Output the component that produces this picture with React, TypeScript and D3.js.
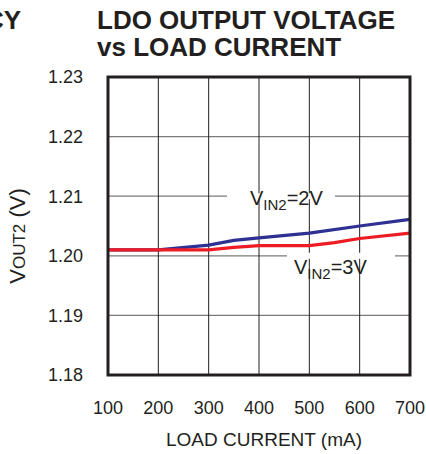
import React from "react";
import * as d3 from "d3";

// load current (mA)
const loadCurrent2V = [100, 200, 300, 350, 400, 500, 600, 700];
const vout2V = [1.201, 1.201, 1.2018, 1.2026, 1.203, 1.2038, 1.205, 1.2061];

const loadCurrent3V = [100, 200, 300, 350, 400, 500, 550, 600, 700];
const vout3V = [1.201, 1.201, 1.201, 1.2014, 1.2017, 1.2017, 1.2022, 1.2029, 1.2038];

const xTicks = [100, 200, 300, 400, 500, 600, 700];
const yTicks = [1.18, 1.19, 1.2, 1.21, 1.22, 1.23];

const W = 426;
const H = 454;
const plot = { left: 108, right: 410, top: 77, bottom: 375 };
const font = "'Liberation Sans', Arial, Helvetica, sans-serif";
const ink = "#231f20";

export default function App() {
  const x = d3.scaleLinear().domain([100, 700]).range([plot.left, plot.right]);
  const y = d3.scaleLinear().domain([1.18, 1.23]).range([plot.bottom, plot.top]);

  const line = d3
    .line<[number, number]>()
    .x((d) => x(d[0]))
    .y((d) => y(d[1]));

  const blue = line(loadCurrent2V.map((c, i) => [c, vout2V[i]]) as [number, number][]) || "";
  const red = line(loadCurrent3V.map((c, i) => [c, vout3V[i]]) as [number, number][]) || "";

  return (
    <svg
      width={W}
      height={H}
      style={{ position: "absolute", left: 0, top: 0, background: "#fff" }}
      fontFamily={font}
    >
      {/* title (left piece belongs to the neighbouring chart) */}
      <text x={21} y={29} textAnchor="end" fontSize={26} fontWeight="bold" fill={ink}>
        CY
      </text>
      <text x={97} y={29} fontSize={26} fontWeight="bold" fill={ink}>
        LDO OUTPUT VOLTAGE
      </text>
      <text x={97} y={56} fontSize={26} fontWeight="bold" fill={ink}>
        vs LOAD CURRENT
      </text>

      {/* horizontal grid */}
      {yTicks.slice(1, -1).map((t) => (
        <line
          key={"h" + t}
          x1={plot.left}
          x2={plot.right}
          y1={y(t)}
          y2={y(t)}
          stroke="#7a7a7a"
          strokeWidth={1.2}
        />
      ))}
      {/* vertical grid */}
      {xTicks.slice(1, -1).map((t) => (
        <line
          key={"v" + t}
          x1={x(t)}
          x2={x(t)}
          y1={plot.top}
          y2={plot.bottom}
          stroke={ink}
          strokeWidth={1}
        />
      ))}

      {/* label backgrounds breaking the grid */}
      <rect x={227} y={y(1.21) - 3} width={108} height={6} fill="#fff" />
      <rect x={287} y={y(1.2) - 3} width={108} height={6} fill="#fff" />

      {/* curves */}
      <path d={blue} fill="none" stroke="#2e3192" strokeWidth={3.2} />
      <path d={red} fill="none" stroke="#ed1c24" strokeWidth={3.2} />

      {/* frame */}
      <rect
        x={plot.left}
        y={plot.top}
        width={plot.right - plot.left}
        height={plot.bottom - plot.top}
        fill="none"
        stroke={ink}
        strokeWidth={3}
      />

      {/* curve labels */}
      <text x={250} y={205} fontSize={20} fill={ink}>
        V<tspan fontSize={15} dy={5}>IN2</tspan>
        <tspan dy={-5}>=2V</tspan>
      </text>
      <text x={294} y={274} fontSize={20} fill={ink}>
        V<tspan fontSize={15} dy={5}>IN2</tspan>
        <tspan dy={-5}>=3V</tspan>
      </text>

      {/* y ticks */}
      {yTicks.map((t) => (
        <text
          key={"yt" + t}
          x={83}
          y={y(t)}
          dy="0.35em"
          textAnchor="end"
          fontSize={18}
          fill={ink}
        >
          {t.toFixed(2)}
        </text>
      ))}
      {/* x ticks */}
      {xTicks.map((t) => (
        <text
          key={"xt" + t}
          x={x(t)}
          y={414}
          textAnchor="middle"
          fontSize={18}
          fill={ink}
        >
          {t}
        </text>
      ))}

      {/* axis titles */}
      <text x={264} y={446} textAnchor="middle" fontSize={19} fill={ink}>
        LOAD CURRENT (mA)
      </text>
      <text
        transform={`translate(25, ${236}) rotate(-90)`}
        textAnchor="middle"
        fontSize={22}
        fill={ink}
      >
        V<tspan fontSize={17}>OUT2</tspan> (V)
      </text>
    </svg>
  );
}
